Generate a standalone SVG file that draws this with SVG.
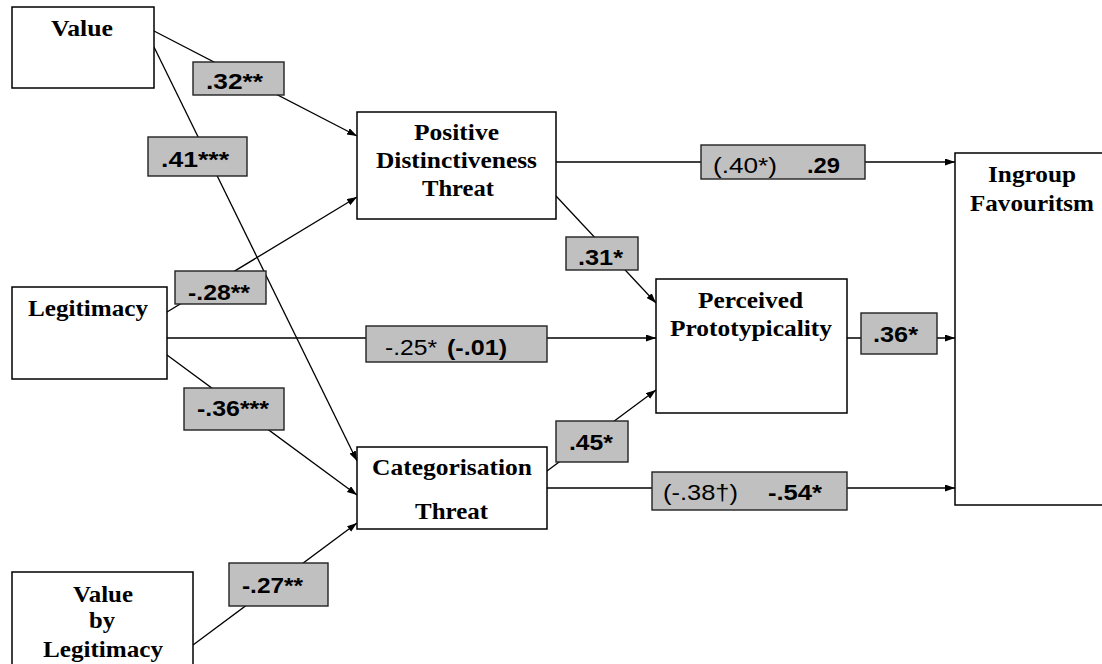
<svg xmlns="http://www.w3.org/2000/svg" width="1102" height="664" viewBox="0 0 1102 664">
<style>
.node{fill:#fff;stroke:#000;stroke-width:1.5}
.lbl{fill:#c0c0c0;stroke:#222;stroke-width:1.4}
.edge{stroke:#000;stroke-width:1.3;fill:none}
.t{font-family:"Liberation Serif","Times New Roman",serif;font-weight:bold;font-size:23px;fill:#000}
.a{font-family:"Liberation Sans",Arial,sans-serif;font-size:22px;fill:#000}
.b{font-weight:bold}
</style>
<defs>
<marker id="arr" markerUnits="userSpaceOnUse" markerWidth="11" markerHeight="8" refX="10" refY="3.5" orient="auto">
<path d="M0,0 L10,3.5 L0,7 z" fill="#000"/>
</marker>
</defs>
<rect width="1102" height="664" fill="#fff"/>
<g id="connectors">
<line class="edge" x1="154" y1="31" x2="357" y2="136" marker-end="url(#arr)"/>
<line class="edge" x1="154" y1="47" x2="357" y2="461" marker-end="url(#arr)"/>
<line class="edge" x1="167" y1="312" x2="357" y2="197" marker-end="url(#arr)"/>
<line class="edge" x1="167" y1="338" x2="656" y2="338" marker-end="url(#arr)"/>
<line class="edge" x1="167" y1="355" x2="357" y2="495" marker-end="url(#arr)"/>
<line class="edge" x1="193" y1="645" x2="357" y2="523" marker-end="url(#arr)"/>
<line class="edge" x1="556" y1="196" x2="656" y2="303" marker-end="url(#arr)"/>
<line class="edge" x1="556" y1="162" x2="955" y2="162" marker-end="url(#arr)"/>
<line class="edge" x1="847" y1="338" x2="955" y2="338" marker-end="url(#arr)"/>
<line class="edge" x1="547" y1="471" x2="656" y2="390" marker-end="url(#arr)"/>
<line class="edge" x1="547" y1="488" x2="955" y2="488" marker-end="url(#arr)"/>
</g>
<g id="labels">
<rect class="lbl" x="193" y="62" width="91" height="33"/>
<text class="a b" x="206" y="89" textLength="57" lengthAdjust="spacingAndGlyphs">.32**</text>
<rect class="lbl" x="148" y="137" width="99" height="39"/>
<text class="a b" x="161" y="167" textLength="68" lengthAdjust="spacingAndGlyphs">.41***</text>
<rect class="lbl" x="701" y="145" width="164" height="34"/>
<text class="a" x="713" y="173" textLength="64" lengthAdjust="spacingAndGlyphs">(.40*)</text>
<text class="a b" x="807" y="173" textLength="33" lengthAdjust="spacingAndGlyphs">.29</text>
<rect class="lbl" x="566" y="237" width="72" height="33"/>
<text class="a b" x="578" y="265" textLength="45" lengthAdjust="spacingAndGlyphs">.31*</text>
<rect class="lbl" x="861" y="313" width="76" height="41"/>
<text class="a b" x="873" y="342" textLength="45" lengthAdjust="spacingAndGlyphs">.36*</text>
<rect class="lbl" x="175" y="271" width="91" height="33"/>
<text class="a b" x="188" y="300" textLength="62" lengthAdjust="spacingAndGlyphs">-.28**</text>
<rect class="lbl" x="366" y="326" width="181" height="36"/>
<text class="a" x="385" y="355" textLength="52" lengthAdjust="spacingAndGlyphs">-.25*</text>
<text class="a b" x="447" y="355" textLength="60" lengthAdjust="spacingAndGlyphs">(-.01)</text>
<rect class="lbl" x="184" y="388" width="100" height="42"/>
<text class="a b" x="197" y="416" textLength="72" lengthAdjust="spacingAndGlyphs">-.36***</text>
<rect class="lbl" x="556" y="421" width="72" height="41"/>
<text class="a b" x="569" y="450" textLength="44" lengthAdjust="spacingAndGlyphs">.45*</text>
<rect class="lbl" x="652" y="472" width="195" height="38"/>
<text class="a" x="663" y="500" textLength="75" lengthAdjust="spacingAndGlyphs">(-.38†)</text>
<text class="a b" x="768" y="500" textLength="54" lengthAdjust="spacingAndGlyphs">-.54*</text>
<rect class="lbl" x="229" y="563" width="99" height="43"/>
<text class="a b" x="242" y="593" textLength="61" lengthAdjust="spacingAndGlyphs">-.27**</text>
</g>
<g id="value">
<rect class="node" x="12" y="7" width="142" height="81"/>
<text class="t" x="51" y="36" textLength="62" lengthAdjust="spacingAndGlyphs">Value</text>
</g>
<g id="pdt">
<rect class="node" x="357" y="112" width="199" height="107"/>
<text class="t" x="414" y="140" textLength="85" lengthAdjust="spacingAndGlyphs">Positive</text>
<text class="t" x="376" y="168" textLength="161" lengthAdjust="spacingAndGlyphs">Distinctiveness</text>
<text class="t" x="422" y="196" textLength="72" lengthAdjust="spacingAndGlyphs">Threat</text>
</g>
<g id="ingroup">
<rect class="node" x="955" y="153" width="170" height="352"/>
<text class="t" x="988" y="182" textLength="88" lengthAdjust="spacingAndGlyphs">Ingroup</text>
<text class="t" x="970" y="211" textLength="124" lengthAdjust="spacingAndGlyphs">Favouritsm</text>
</g>
<g id="perceived">
<rect class="node" x="656" y="279" width="191" height="134"/>
<text class="t" x="698" y="308" textLength="105" lengthAdjust="spacingAndGlyphs">Perceived</text>
<text class="t" x="670" y="336" textLength="162" lengthAdjust="spacingAndGlyphs">Prototypicality</text>
</g>
<g id="legitimacy">
<rect class="node" x="12" y="287" width="155" height="92"/>
<text class="t" x="28" y="316" textLength="120" lengthAdjust="spacingAndGlyphs">Legitimacy</text>
</g>
<g id="categorisation">
<rect class="node" x="357" y="447" width="190" height="82"/>
<text class="t" x="372" y="475" textLength="160" lengthAdjust="spacingAndGlyphs">Categorisation</text>
<text class="t" x="415" y="519" textLength="73" lengthAdjust="spacingAndGlyphs">Threat</text>
</g>
<g id="valuebylegitimacy">
<rect class="node" x="12" y="572" width="181" height="120"/>
<text class="t" x="73" y="602" textLength="60" lengthAdjust="spacingAndGlyphs">Value</text>
<text class="t" x="89" y="628" textLength="26" lengthAdjust="spacingAndGlyphs">by</text>
<text class="t" x="43" y="657" textLength="120" lengthAdjust="spacingAndGlyphs">Legitimacy</text>
</g>
</svg>
